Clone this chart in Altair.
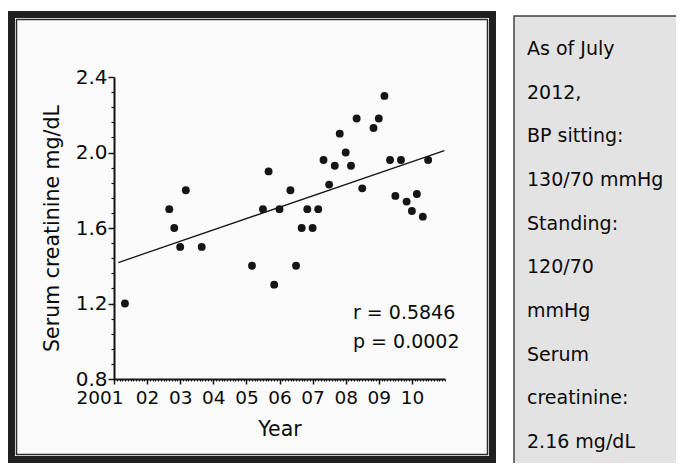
import altair as alt
import pandas as pd

# ---- data ----
years = [2001.33, 2002.67, 2002.82, 2003.0, 2003.17, 2003.65, 2005.17, 2005.5, 2005.67, 2005.84,
         2006.0, 2006.33, 2006.5, 2006.67, 2006.84, 2007.0, 2007.17, 2007.33, 2007.5, 2007.67,
         2007.82, 2008.0, 2008.16, 2008.33, 2008.5, 2008.84, 2009.0, 2009.17, 2009.34, 2009.5,
         2009.67, 2009.84, 2010.0, 2010.15, 2010.33, 2010.49]
creatinine = [1.2, 1.7, 1.6, 1.5, 1.8, 1.5, 1.4, 1.7, 1.9, 1.3,
              1.7, 1.8, 1.4, 1.6, 1.7, 1.6, 1.7, 1.96, 1.83, 1.93,
              2.1, 2.0, 1.93, 2.18, 1.81, 2.13, 2.18, 2.3, 1.96, 1.77,
              1.96, 1.74, 1.69, 1.78, 1.66, 1.96]

fit_x = [2001.13, 2010.98]
fit_y = [1.417, 2.010]

x_tick_values = [2001, 2002, 2003, 2004, 2005, 2006, 2007, 2008, 2009, 2010]
x_tick_labels = ["2001", "02", "03", "04", "05", "06", "07", "08", "09", "10"]
x_minor_values = [2001 + k / 12 for k in range(0, 121)]
y_tick_values = [0.8, 1.2, 1.6, 2.0, 2.4]
y_minor_values = [0.88, 0.96, 1.04, 1.12, 1.28, 1.36, 1.44, 1.52,
                  1.68, 1.76, 1.84, 1.92, 2.08, 2.16, 2.24, 2.32]

stat_labels = ["r = 0.5846", "p = 0.0002"]
stat_x = [2008.22, 2008.22]
stat_y = [1.149, 0.996]

panel_lines = ["As of July", "2012,", "BP sitting:", "130/70 mmHg", "Standing:",
               "120/70", "mmHg", "Serum", "creatinine:", "2.16 mg/dL"]

# ---- frames ----
FONT = "DejaVu Sans"
INK = "#151515"
TXT = "#0a0a0a"
XD = [2001, 2011]
YD = [0.8, 2.4]

pts = pd.DataFrame({"year": years, "cr": creatinine})
fit = pd.DataFrame({"year": fit_x, "cr": fit_y})
stats = pd.DataFrame({"year": stat_x, "cr": stat_y, "t": stat_labels})
panel = pd.DataFrame({"i": list(range(len(panel_lines))), "t": panel_lines})
one = pd.DataFrame({"a": [0]})

label_expr = "[" + ",".join(f"'{l}'" for l in x_tick_labels) + "][round(datum.value - 2001)]"


def rect(x, x2, y, y2, **kw):
    return alt.Chart(one).mark_rect(**kw).encode(
        x=alt.value(x), x2=alt.value(x2), y=alt.value(y), y2=alt.value(y2))


outer = rect(-106, 382, -66, 386, color="#202020")
gap = rect(-99, 375, -59, 379, color="#ffffff")
inner = rect(-97.5, 373.5, -57.5, 377.5, fill="#fbfbfb", stroke="#2a2a2a", strokeWidth=1.5)
right_box = rect(400, 640, -61, 420, fill="#e3e3e3", stroke="#444444", strokeWidth=1.5)

xscale = alt.Scale(domain=XD, zero=False, nice=False)
yscale = alt.Scale(domain=YD, zero=False, nice=False)

main_x_axis = alt.Axis(
    orient="bottom", values=x_tick_values, labelExpr=label_expr, grid=False, zindex=1,
    labelOverlap=False, labelFlush=False,
    labelAlign={"condition": {"test": "datum.value == 2001", "value": "right"}, "value": "center"},
    labelOffset={"condition": {"test": "datum.value == 2001", "value": 9}, "value": 0},
    domainColor=INK, domainWidth=2, tickColor=INK, tickWidth=1.5, tickSize=5,
    labelFont=FONT, labelFontSize=18.5, labelColor=TXT, labelPadding=4,
    title="Year", titleFont=FONT, titleFontSize=20.5, titleFontWeight="normal",
    titleColor=TXT, titlePadding=13)
main_y_axis = alt.Axis(
    orient="left", values=y_tick_values, format=".1f", grid=False, zindex=1,
    labelOverlap=False, labelFlush=False,
    domainColor=INK, domainWidth=2, tickColor=INK, tickWidth=1.5, tickSize=6,
    labelFont=FONT, labelFontSize=20, labelColor=TXT, labelPadding=1,
    title="Serum creatinine mg/dL", titleFont=FONT, titleFontSize=20.5,
    titleFontWeight="normal", titleColor=TXT, titlePadding=13)

points = alt.Chart(pts).mark_circle(size=62, color=INK, opacity=1).encode(
    x=alt.X("year:Q", scale=xscale, axis=main_x_axis),
    y=alt.Y("cr:Q", scale=yscale, axis=main_y_axis))

minor = alt.Chart(pts).mark_circle(opacity=0).encode(
    x=alt.X("year:Q", scale=xscale, axis=alt.Axis(
        values=x_minor_values, labels=False, domain=False, grid=False, tickSize=2,
        tickColor=INK, tickWidth=1, title=None, orient="bottom", zindex=1)),
    y=alt.Y("cr:Q", scale=yscale, axis=alt.Axis(
        values=y_minor_values, labels=False, domain=False, grid=False, tickSize=3,
        tickColor=INK, tickWidth=1.2, title=None, orient="left", zindex=1)))

line = alt.Chart(fit).mark_line(color=INK, strokeWidth=1.3).encode(
    x=alt.X("year:Q", scale=xscale, axis=None),
    y=alt.Y("cr:Q", scale=yscale, axis=None))

stat_text = alt.Chart(stats).mark_text(
    align="left", baseline="middle", font=FONT, fontSize=19, color=TXT).encode(
    x=alt.X("year:Q", scale=xscale, axis=None),
    y=alt.Y("cr:Q", scale=yscale, axis=None),
    text="t:N")

panel_text = alt.Chart(panel).mark_text(
    align="left", baseline="middle", font=FONT, fontSize=19, color=TXT).encode(
    x=alt.value(413),
    y=alt.Y("i:Q", scale=alt.Scale(domain=[0, 9], range=[-28, 365], zero=False, nice=False),
            axis=None),
    text="t:N")

chart = alt.layer(outer, gap, inner, right_box, minor, line, points, stat_text, panel_text).resolve_scale(
    y="independent").resolve_axis(x="independent", y="independent").properties(
    width=331, height=302,
    padding={"left": 106, "top": 69, "right": 231, "bottom": 84},
    autosize=alt.AutoSizeParams(type="none"),
    background="#ffffff").configure_view(stroke=None)

chart.save("out.html", embed_options={"renderer": "svg", "actions": False})
